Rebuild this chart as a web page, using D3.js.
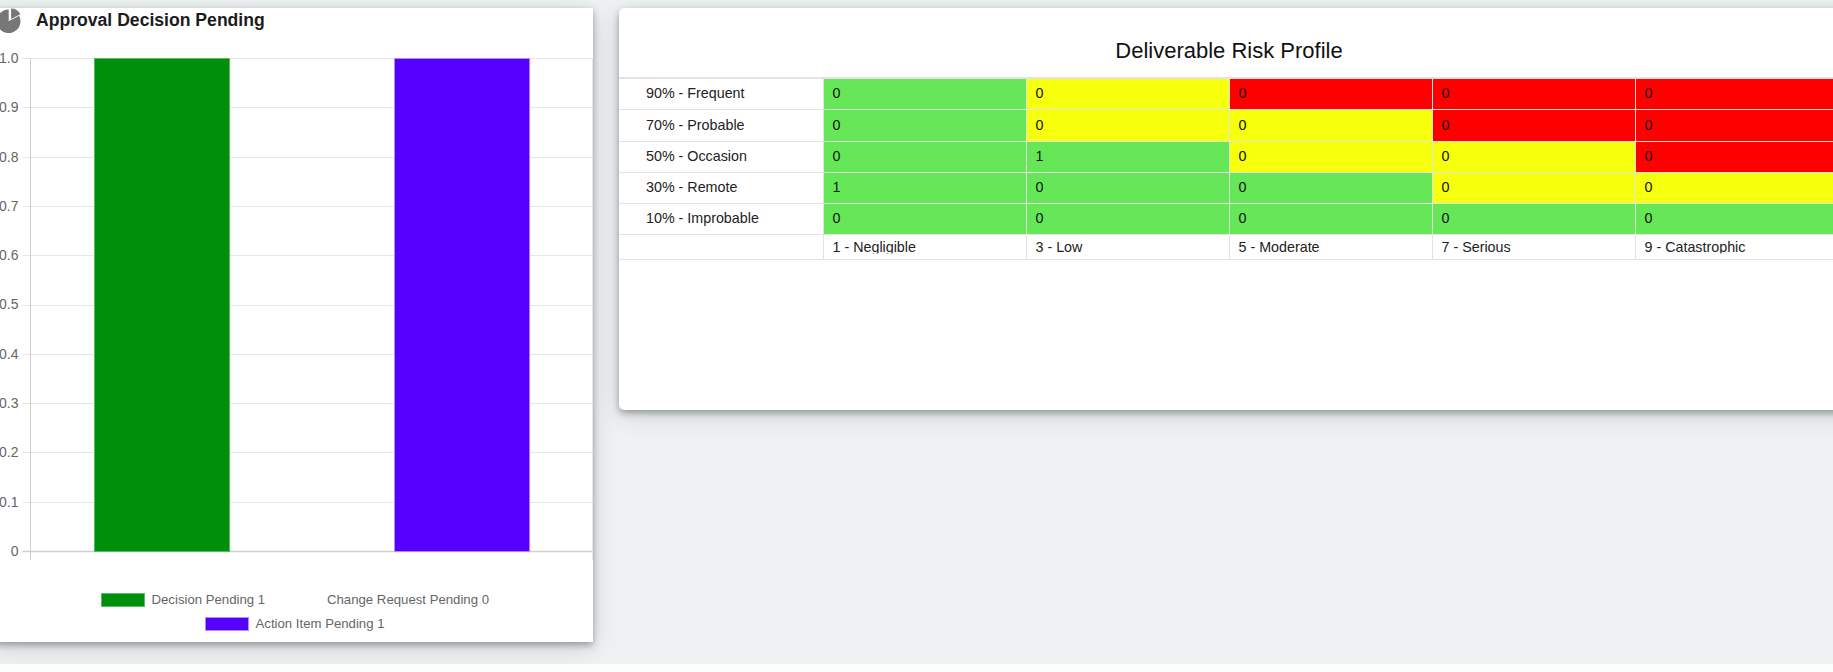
<!DOCTYPE html>
<html><head><meta charset="utf-8">
<script src="https://cdn.jsdelivr.net/npm/d3@7/dist/d3.min.js"></script>
<style>
html,body{margin:0;padding:0;width:1833px;height:672px;overflow:hidden;background:#eef2f3;font-family:"Liberation Sans",Arial,sans-serif}
svg{position:absolute;left:0;top:0;display:block}
.card{position:absolute;background:#fff;box-shadow:0 3px 7px rgba(0,0,0,.32),0 6px 26px rgba(0,0,0,.13)}
.foot{position:absolute;left:0;top:664px;width:1833px;height:8px;background:#fcfdfd}
</style></head><body>
<div class="card" style="left:-10px;top:8px;width:603px;height:634px"></div>
<div class="card" style="left:619px;top:8px;width:1300px;height:402px;border-radius:5px"></div>
<div class="foot"></div>
<svg id="c" width="1833" height="672"></svg>
<script>
const chartTitle="Approval Decision Pending";
const seriesNames=["Decision Pending","Change Request Pending","Action Item Pending"];
const seriesValues=[1,0,1];
const seriesColors=["#008f0b","none","#5500ff"];
const seriesBorders=["#5cb864","none","#b28cff"];
const yTicks=[0,0.1,0.2,0.3,0.4,0.5,0.6,0.7,0.8,0.9,1.0];
const tableTitle="Deliverable Risk Profile";
const likelihoods=["90% - Frequent","70% - Probable","50% - Occasion","30% - Remote","10% - Improbable"];
const severities=["1 - Negligible","3 - Low","5 - Moderate","7 - Serious","9 - Catastrophic"];
const counts=[[0,0,0,0,0],[0,0,0,0,0],[0,1,0,0,0],[1,0,0,0,0],[0,0,0,0,0]];
const riskLevels=[["g","y","r","r","r"],["g","y","y","r","r"],["g","g","y","y","r"],["g","g","g","y","y"],["g","g","g","g","g"]];
const riskColors={g:"#66e757",y:"#f6ff0c",r:"#ff0000"};

const svg=d3.select("#c");
// left chart
const left=30.5,right=593.5,top_=58,base=551;
const y=d3.scaleLinear().domain([0,1]).range([base,top_]);
const cat=d3.scaleBand().domain(["all"]).range([left,right]).paddingInner(0.2).paddingOuter(0.1);
const x=d3.scaleBand().domain(seriesNames).range([cat("all"),cat("all")+cat.bandwidth()]).paddingInner(0.1).paddingOuter(0.05);
const g=svg.append("g").attr("font-family","'Liberation Sans',Arial,sans-serif");
g.selectAll("line.grid").data(yTicks).join("line").attr("class","grid")
 .attr("x1",left-8).attr("x2",right).attr("y1",d=>Math.round(y(d))+.5).attr("y2",d=>Math.round(y(d))+.5)
 .attr("stroke",d=>d===0?"#cfcfcf":"#e6e6e6").attr("stroke-width",d=>d===0?1.5:1);
g.append("line").attr("x1",left).attr("x2",left).attr("y1",top_).attr("y2",base+9).attr("stroke","#cfcfcf");
g.append("line").attr("x1",right-1).attr("x2",right-1).attr("y1",top_).attr("y2",base+9).attr("stroke","#e6e6e6");
g.selectAll("text.t").data(yTicks).join("text").attr("class","t")
 .attr("x",left-12).attr("y",d=>y(d)).attr("dy","0.35em").attr("text-anchor","end")
 .attr("font-size",14).attr("fill","#666").text(d=>d===0?"0":d3.format(".1f")(d));
g.selectAll("rect.b").data(seriesNames.map((n,i)=>({n,v:seriesValues[i],c:seriesColors[i],s:seriesBorders[i]}))).join("rect").attr("class","b")
 .attr("x",d=>Math.floor(x(d.n))+.5).attr("width",x.bandwidth()).attr("y",d=>y(d.v)+.5).attr("height",d=>y(0)-y(d.v)).attr("fill",d=>d.c).attr("stroke",d=>d.s);
g.append("text").attr("x",36).attr("y",26).attr("font-size",17.6).attr("font-weight","bold").attr("fill","#1c1c1c").text(chartTitle);
// icon
const ic=g.append("g").attr("transform","translate(8.7,21.3)");
ic.append("path").attr("d",d3.arc()({innerRadius:0,outerRadius:11.8,startAngle:Math.PI*0.345,endAngle:Math.PI*2})).attr("fill","#777");
ic.append("path").attr("transform","translate(2.4,-2.2)").attr("d",d3.arc()({innerRadius:0,outerRadius:10.5,startAngle:0,endAngle:Math.PI*0.345})).attr("fill","#777");
// legend
const legend=[{i:0,bx:101,ty:599.5},{i:1,bx:null,tx:327,ty:599.5},{i:2,bx:205,ty:623.5}];
legend.forEach(l=>{
 if(l.bx!==null) g.append("rect").attr("x",l.bx+.5).attr("y",l.ty-6).attr("width",43).attr("height",13).attr("fill",seriesColors[l.i]).attr("stroke",seriesBorders[l.i]);
 g.append("text").attr("x",l.bx!==null?l.bx+50.5:l.tx).attr("y",l.ty).attr("dy","0.35em").attr("font-size",13.2).attr("fill","#666").text(seriesNames[l.i]+" "+seriesValues[l.i]);
});
// table
const colEdges=d3.scaleLinear().domain([0,5]).range([823.5,1838.5]);
const rowEdges=[79,109.5,141.5,172.5,203.5,234.5];
const t=svg.append("g").attr("font-family","'Liberation Sans',Arial,sans-serif");
t.append("text").attr("x",1229).attr("y",57.5).attr("text-anchor","middle").attr("font-size",22).attr("fill","#111").text(tableTitle);
const lineColor="#e3e3e3";
likelihoods.forEach((lab,r)=>{
 severities.forEach((s,c)=>{
  t.append("rect").attr("x",colEdges(c)+.5).attr("y",rowEdges[r]).attr("width",colEdges(c+1)-colEdges(c)-1).attr("height",rowEdges[r+1]-rowEdges[r]-.5).attr("fill",riskColors[riskLevels[r][c]]);
  t.append("text").attr("x",colEdges(c)+9).attr("y",(rowEdges[r]+rowEdges[r+1])/2-1).attr("dy","0.35em").attr("font-size",14.3).attr("fill","#111").text(counts[r][c]);
 });
 t.append("text").attr("x",646).attr("y",(rowEdges[r]+rowEdges[r+1])/2-1).attr("dy","0.35em").attr("font-size",14.3).attr("fill","#222").text(lab);
});
t.append("rect").attr("x",619).attr("y",77).attr("width",1214).attr("height",2).attr("fill",lineColor);
rowEdges.slice(1).concat([259.5]).forEach(v=>t.append("line").attr("x1",619).attr("x2",1833).attr("y1",v).attr("y2",v).attr("stroke",lineColor));
d3.range(0,5).forEach(c=>t.append("line").attr("x1",colEdges(c)).attr("x2",colEdges(c)).attr("y1",79).attr("y2",259).attr("stroke",lineColor));
svg.append("clipPath").attr("id","hdr").append("rect").attr("x",800).attr("y",236).attr("width",1033).attr("height",17.5);
t.append("g").attr("clip-path","url(#hdr)").selectAll("text").data(severities).join("text")
 .attr("x",(d,i)=>colEdges(i)+9).attr("y",252).attr("font-size",14.3).attr("fill","#222").text(d=>d);
</script></body></html>
